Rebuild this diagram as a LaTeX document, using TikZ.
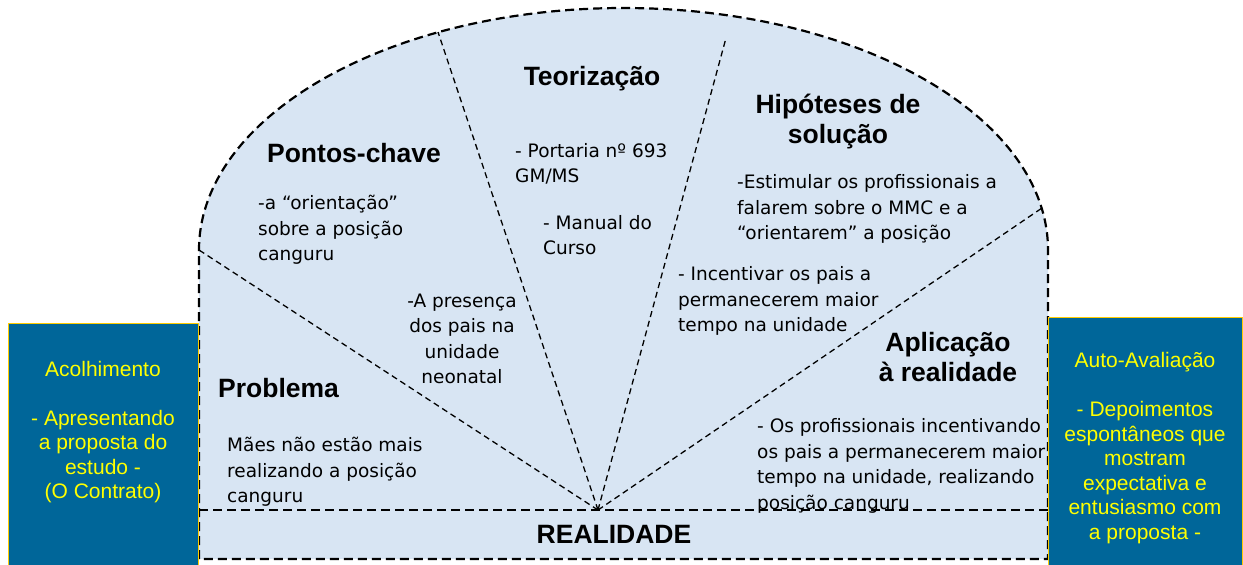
\documentclass[tikz,border=0pt]{standalone}
\usepackage{fontspec}
\setmainfont{Liberation Sans}
\newfontfamily\bodyf{DejaVu Sans}
\definecolor{domefill}{RGB}{216,229,243}
\definecolor{boxblue}{RGB}{0,102,153}
\definecolor{boxedge}{RGB}{255,204,0}
\definecolor{boxtext}{RGB}{255,255,0}
\begin{document}
\begin{tikzpicture}[x=1pt,y=-1pt,
  outline/.style={line width=2.2pt,dash pattern=on 9pt off 5pt},
  fanline/.style={line width=1.3pt,dash pattern=on 6pt off 4pt},
  title/.style={font=\bfseries\fontsize{26.5}{30}\selectfont,inner sep=0pt,align=center},
  body/.style={font=\bodyf\fontsize{18.5}{25.5}\selectfont,inner sep=0pt,align=left,anchor=west},
  sidebox/.style={fill=boxblue,draw=boxedge,line width=0.8pt},
  sidetext/.style={text=boxtext,font=\fontsize{21}{24.5}\selectfont,align=center,inner sep=0pt}]
\useasboundingbox[fill=white] (0,0) rectangle (1243,565);
% dome
\path[fill=domefill] (199,559) -- (199,250) arc[start angle=180,end angle=0,x radius=424.5pt,y radius=242pt] -- (1048,559) -- cycle;
% fan
\coordinate (hub) at (598,510);
\coordinate (f1) at (199,250);
\coordinate (f2) at (438,32);
\coordinate (f3) at (726,38);
\coordinate (f4) at (1042,208);
\draw[fanline] (hub) -- (f1);
\draw[fanline] (hub) -- (f2);
\draw[fanline] (hub) -- (f3);
\draw[fanline] (hub) -- (f4);
% titles
\node[title] (teo) at (592,79) {Teorização};
\node[title] (pk) at (354,153) {Pontos-chave};
\node[title] (hip) at (838,122) {Hipóteses de\\solução};
\node[title,anchor=west] (prob) at (218,388) {Problema};
\node[title] (apl) at (948,357) {Aplicação\\à realidade};
\node[title] (real) at (614,534) {REALIDADE};
% bodies
\node[body] (pkb) at (258,230) {-a “orientação”\\sobre a posição\\canguru};
\node[body] (teob1) at (515,164) {- Portaria nº 693\\GM/MS};
\node[body] (teob2) at (543,235) {- Manual do\\Curso};
\node[body,align=center,anchor=center] (mid) at (462,339) {-A presença\\dos pais na\\unidade\\neonatal};
\node[body] (hipb1) at (737,209) {-Estimular os profissionais a\\falarem sobre o MMC e a\\“orientarem” a posição};
\node[body] (hipb2) at (678,301) {- Incentivar os pais a\\permanecerem maior\\tempo na unidade};
\node[body] (probb) at (227,472) {Mães não estão mais\\realizando a posição\\canguru};
\node[body] (aplb) at (757,466) {- Os profissionais incentivando\\os pais a permanecerem maior\\tempo na unidade, realizando\\posição canguru};
% outline
\coordinate (rl) at (199,510);
\coordinate (rr) at (1048,510);
\draw[outline] (rl) -- (rr);
\draw[outline] (199,559) -- (199,250) arc[start angle=180,end angle=0,x radius=424.5pt,y radius=242pt] -- (1048,559) -- cycle;
% side boxes
\path[sidebox] (8,323) rectangle (198,570);
\path[sidebox] (1048,317) rectangle (1242,570);
\node[sidetext] (acol) at (103,432) {Acolhimento\\[24.5pt]- Apresentando\\a proposta do\\estudo -\\(O Contrato)};
\node[sidetext] (auto) at (1145,448) {Auto-Avaliação\\[24.5pt]- Depoimentos\\espontâneos que\\mostram\\expectativa e\\entusiasmo com\\a proposta -};
\end{tikzpicture}
\end{document}
